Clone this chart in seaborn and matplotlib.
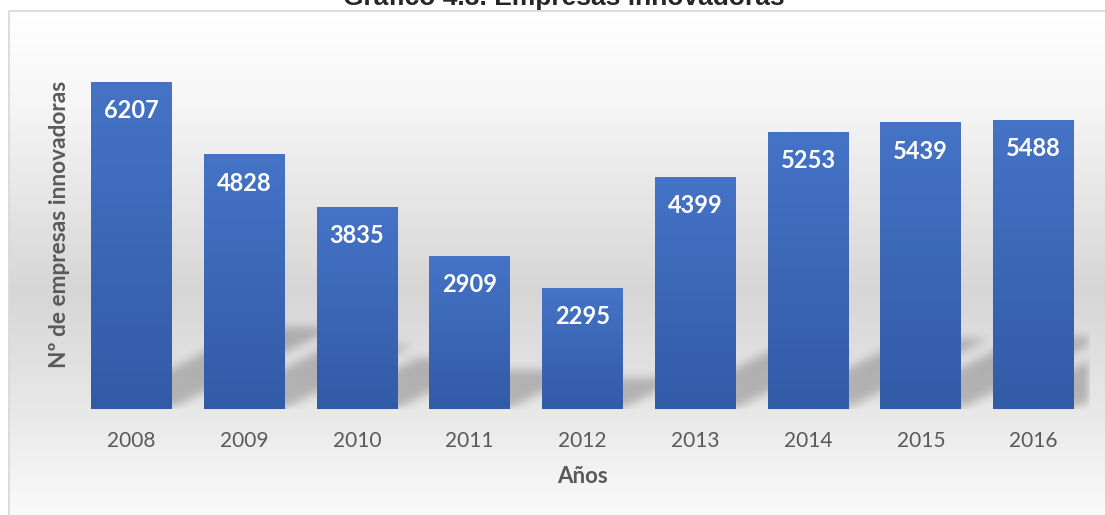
import numpy as np
import pandas as pd
import matplotlib
matplotlib.use("Agg")
import matplotlib.pyplot as plt
import seaborn as sns
from matplotlib.path import Path
from matplotlib.patches import Rectangle
from matplotlib.colors import LinearSegmentedColormap

# data
anios = ["2008", "2009", "2010", "2011", "2012", "2013", "2014", "2015", "2016"]
empresas = [6207, 4828, 3835, 2909, 2295, 4399, 5253, 5439, 5488]

titulo = "Gráfico 4.3. Empresas innovadoras"
eje_x = "Años"
eje_y = "Nº de empresas innovadoras"

df = pd.DataFrame({"anio": anios, "empresas": empresas})

sns.set_theme(style="white")
plt.rcParams["font.family"] = ["Lato", "DejaVu Sans"]

W, H = 1105, 515
fig = plt.figure(figsize=(W / 100, H / 100), dpi=100)
fig.patch.set_facecolor("white")

# chart area background: vertical grey gradient + thin border
bg = fig.add_axes([0, 0, 1, 1], zorder=-2)
bg.axis("off")
bg_cmap = LinearSegmentedColormap.from_list(
    "bg", [(0, "#ffffff"), (0.18, "#f6f6f6"), (0.55, "#d6d6d6"), (0.8, "#e9e9e9"), (1, "#fbfbfb")])
bg.imshow(np.linspace(0, 1, 256).reshape(-1, 1), cmap=bg_cmap,
          extent=[9, W + 5, H + 5, 11], aspect="auto")
bg.add_patch(Rectangle((9, 11), W, H, fill=False, edgecolor="#d9d9d9", lw=1.3))
bg.set_xlim(0, W)
bg.set_ylim(H, 0)

ax = fig.add_axes([75 / W, 106 / H, 1015 / W, 369 / H])
ax.set_facecolor("none")
sns.barplot(data=df, x="anio", y="empresas", color="#3a63ae", width=0.717,
            saturation=1, linewidth=0, ax=ax)
xlim = (-0.5, len(anios) - 0.5)
ylim = (0, 7000)

# gradient fill on each bar
bar_cmap = LinearSegmentedColormap.from_list("bar", ["#325ba7", "#4573c6"])
for p in ax.patches:
    x0, w, h = p.get_x(), p.get_width(), p.get_height()
    p.set_zorder(1.5)
    im = ax.imshow(np.linspace(1, 0, 128).reshape(-1, 1), cmap=bar_cmap,
                   extent=[x0, x0 + w, 0, h], aspect="auto", zorder=2)
    im.set_clip_path(p)

# soft perspective shadows behind the bars
nx, ny = 1015, 369
xs = np.linspace(xlim[0], xlim[1], nx)
ys = np.linspace(ylim[0], ylim[1], ny)
XX, YY = np.meshgrid(xs, ys)
pts = np.column_stack([XX.ravel(), YY.ravel()])
mask = np.zeros(XX.size)
for p in ax.patches:
    x0, w, h = p.get_x(), p.get_width(), p.get_height()
    dx = 2.34e-4 * h
    poly = Path([(x0, 0), (x0 + w, 0), (x0 + w + dx, 0.25 * h), (x0 + dx, 0.25 * h)])
    mask = np.maximum(mask, poly.contains_points(pts))
mask = mask.reshape(ny, nx)


def box_blur(a, r, axis):
    pad = [(0, 0), (0, 0)]
    pad[axis] = (r + 1, r)
    c = np.cumsum(np.pad(a, pad), axis=axis)
    n = a.shape[axis]
    hi = np.take(c, np.arange(2 * r + 1, 2 * r + 1 + n), axis=axis)
    lo = np.take(c, np.arange(0, n), axis=axis)
    return (hi - lo) / (2 * r + 1)


for _ in range(3):
    mask = box_blur(mask, 4, 0)
    mask = box_blur(mask, 4, 1)

rgba = np.zeros((ny, nx, 4))
rgba[..., 3] = 0.22 * mask
ax.imshow(rgba, extent=[xlim[0], xlim[1], ylim[0], ylim[1]], origin="lower",
          aspect="auto", zorder=0.5)

ax.set_xlim(*xlim)
ax.set_ylim(*ylim)

ax.bar_label(ax.containers[0], labels=[str(v) for v in empresas], padding=-29,
             color="white", fontweight="bold", fontsize=17, zorder=3)

for s in ax.spines.values():
    s.set_visible(False)
ax.set_yticks([])
ax.tick_params(axis="x", length=0, pad=16, labelsize=15, labelcolor="#595959")

ax.set_xlabel(eje_x, fontsize=16, fontweight="bold", color="#595959", va="center")
ax.xaxis.set_label_coords(0.5, -0.184)
ax.set_ylabel(eje_y, fontsize=16.3, fontweight="bold", color="#595959",
              va="center", ha="center")
ax.yaxis.set_label_coords(-0.015, 0.5)

fig.text(564 / W, 1 - 5 / H, titulo, ha="center", va="baseline", fontsize=19,
         fontweight="bold", family=["Liberation Sans", "DejaVu Sans"])

fig.savefig("out.png", dpi=100)
